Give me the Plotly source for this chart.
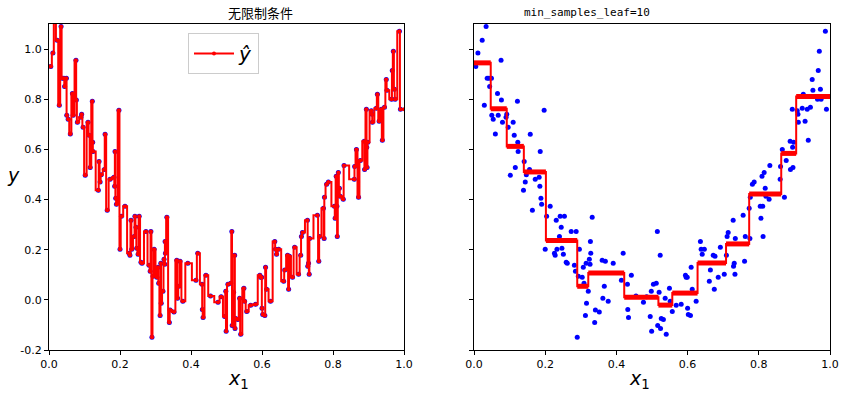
import plotly.graph_objects as go

# ---- training points ----
x_data = [0.005, 0.011, 0.016, 0.023, 0.029, 0.034, 0.037, 0.042, 0.044, 0.049,
          0.050, 0.054, 0.060, 0.066, 0.068, 0.076, 0.077, 0.080, 0.090, 0.092,
          0.096, 0.102, 0.110, 0.113, 0.116, 0.122, 0.123, 0.124, 0.139, 0.141,
          0.144, 0.147, 0.156, 0.158, 0.164, 0.172, 0.183, 0.185, 0.186, 0.188,
          0.190, 0.197, 0.200, 0.204, 0.214, 0.226, 0.228, 0.231, 0.233, 0.240,
          0.242, 0.245, 0.247, 0.251, 0.254, 0.259, 0.262, 0.273, 0.282, 0.285,
          0.287, 0.290, 0.293, 0.296, 0.304, 0.307, 0.309, 0.313, 0.315, 0.316,
          0.321, 0.324, 0.326, 0.327, 0.328, 0.332, 0.339, 0.341, 0.352, 0.360,
          0.362, 0.366, 0.369, 0.377, 0.391, 0.414, 0.419, 0.431, 0.432, 0.434,
          0.442, 0.455, 0.476, 0.485, 0.495, 0.498, 0.499, 0.504, 0.512, 0.515,
          0.516, 0.520, 0.523, 0.524, 0.526, 0.532, 0.537, 0.540, 0.549, 0.551,
          0.557, 0.568, 0.582, 0.594, 0.596, 0.599, 0.600, 0.602, 0.608, 0.610,
          0.613, 0.624, 0.636, 0.638, 0.641, 0.647, 0.661, 0.664, 0.672, 0.675,
          0.677, 0.686, 0.692, 0.703, 0.709, 0.711, 0.714, 0.728, 0.729, 0.731,
          0.733, 0.734, 0.756, 0.760, 0.762, 0.773, 0.775, 0.776, 0.782, 0.787,
          0.804, 0.806, 0.809, 0.811, 0.812, 0.815, 0.818, 0.820, 0.829, 0.831,
          0.860, 0.861, 0.866, 0.872, 0.877, 0.888, 0.889, 0.894, 0.895, 0.896,
          0.898, 0.908, 0.910, 0.911, 0.922, 0.925, 0.930, 0.936, 0.939, 0.945,
          0.950, 0.952, 0.965, 0.967, 0.970, 0.973, 0.975, 0.987, 0.990]
y_data = [0.931, 0.984, 1.130, 1.035, 0.776, 1.090, 0.884, 0.884, 0.851, 0.884,
          0.736, 0.720, 0.661, 0.823, 0.736, 0.955, 0.797, 0.708, 0.728, 0.740,
          0.688, 0.497, 0.708, 0.656, 0.528, 0.792, 0.628, 0.592, 0.437, 0.552,
          0.470, 0.499, 0.520, 0.660, 0.357, 0.481, 0.489, 0.453, 0.592, 0.405,
          0.381, 0.756, 0.202, 0.333, 0.373, 0.186, 0.178, 0.317, 0.202, 0.253,
          0.333, 0.289, 0.206, 0.182, 0.333, 0.150, 0.146, 0.273, 0.138, 0.114,
          0.273, -0.149, 0.094, 0.202, 0.090, 0.130, 0.066, -0.062, 0.146, -0.014,
          0.034, 0.162, 0.142, 0.233, 0.186, 0.329, -0.090, -0.040, -0.048, 0.158,
          0.006, 0.054, 0.154, -0.006, 0.146, 0.078, 0.186, 0.062, -0.038, -0.070,
          0.098, 0.015, -0.010, 0.012, -0.066, 0.034, -0.125, 0.062, 0.066, 0.273,
          -0.102, 0.030, 0.178, -0.114, -0.074, -0.078, 0.006, -0.137, 0.046, -0.006,
          -0.046, -0.022, -0.018, 0.098, 0.090, 0.090, -0.034, -0.058, -0.062, 0.130,
          0.042, -0.006, 0.233, 0.202, 0.182, 0.202, 0.074, 0.119, 0.178, 0.042,
          0.174, 0.090, 0.210, 0.102, 0.178, 0.253, 0.269, 0.317, 0.134, 0.146,
          0.102, 0.245, 0.337, 0.154, 0.253, 0.365, 0.245, 0.409, 0.461, 0.470,
          0.373, 0.325, 0.493, 0.373, 0.253, 0.508, 0.445, 0.413, 0.401, 0.536,
          0.481, 0.532, 0.600, 0.409, 0.556, 0.632, 0.520, 0.760, 0.609, 0.528,
          0.628, 0.754, 0.740, 0.708, 0.764, 0.820, 0.712, 0.760, 0.636, 0.768,
          0.879, 0.836, 0.800, 0.915, 0.991, 0.840, 0.800, 1.071, 0.760]

# ---- min_samples_leaf=10 tree: leaf edges and leaf values ----
leaf_edges = [0.0, 0.047, 0.092, 0.140, 0.202, 0.290, 0.321, 0.422, 0.518,
              0.557, 0.628, 0.708, 0.773, 0.863, 0.905, 1.0]
leaf_values = [0.945, 0.762, 0.612, 0.510, 0.237, 0.054, 0.107, 0.010,
               -0.021, 0.027, 0.147, 0.223, 0.422, 0.584, 0.811]

x_ticks = [0.0, 0.2, 0.4, 0.6, 0.8, 1.0]
x_tick_text = ["0.0", "0.2", "0.4", "0.6", "0.8", "1.0"]
y_ticks = [-0.2, 0.0, 0.2, 0.4, 0.6, 0.8, 1.0]
y_tick_text = ["-0.2", "0.0", "0.2", "0.4", "0.6", "0.8", "1.0"]

titles = ["无限制条件", "min_samples_leaf=10"]

# sort points for the unrestricted tree line
pairs = sorted(zip(x_data, y_data))
xs = [p[0] for p in pairs]
ys = [p[1] for p in pairs]

fig = go.Figure()

# left panel
fig.add_trace(go.Scatter(x=x_data, y=y_data, mode="markers",
                         marker=dict(color="blue", size=5), showlegend=False,
                         xaxis="x", yaxis="y"))
fig.add_trace(go.Scatter(x=[0.0] + xs + [1.0], y=[ys[0]] + ys + [ys[-1]],
                         mode="lines+markers", line=dict(color="red", width=2, shape="hvh"),
                         marker=dict(color="red", size=4),
                         name="<i>ŷ</i>", showlegend=True, xaxis="x", yaxis="y"))

# right panel
fig.add_trace(go.Scatter(x=x_data, y=y_data, mode="markers",
                         marker=dict(color="blue", size=5), showlegend=False,
                         xaxis="x2", yaxis="y2"))
fig.add_trace(go.Scatter(x=leaf_edges, y=leaf_values + [leaf_values[-1]],
                         mode="lines", line=dict(color="red", width=2, shape="hv"),
                         showlegend=False, xaxis="x2", yaxis="y2"))
hx, hy = [], []
for i, v in enumerate(leaf_values):
    hx += [leaf_edges[i], leaf_edges[i + 1], None]
    hy += [v, v, None]
fig.add_trace(go.Scatter(x=hx, y=hy, mode="lines",
                         line=dict(color="red", width=5),
                         showlegend=False, xaxis="x2", yaxis="y2"))

W, H = 846, 396
ML, MR, MT, MB = 49, 16, 24, 46
PW = W - ML - MR
tickfont = dict(family="DejaVu Sans, sans-serif", size=11, color="black")
axis_common = dict(showgrid=False, zeroline=False, showline=True, mirror=True,
                   linecolor="black", linewidth=1, ticks="outside", ticklen=4,
                   tickcolor="black", tickfont=tickfont, automargin=False)

fig.update_layout(
    width=W, height=H, margin=dict(l=ML, r=MR, t=MT, b=MB, autoexpand=False),
    plot_bgcolor="white", paper_bgcolor="white",
    xaxis=dict(domain=[0, 355 / PW], range=[0, 1], tickvals=x_ticks,
               ticktext=x_tick_text, anchor="y", **axis_common),
    yaxis=dict(domain=[0, 1], range=[-0.2, 1.1], tickvals=y_ticks,
               ticktext=y_tick_text, anchor="x", **axis_common),
    xaxis2=dict(domain=[(474 - ML) / PW, 1], range=[0, 1], tickvals=x_ticks,
                ticktext=x_tick_text, anchor="y2", **axis_common),
    yaxis2=dict(domain=[0, 1], range=[-0.2, 1.1], tickvals=y_ticks,
                showticklabels=False, anchor="x2", **axis_common),
    legend=dict(x=(188 - ML) / PW, y=1 - (33 - MT) / (H - MT - MB),
                xanchor="left", yanchor="top",
                bgcolor="white", bordercolor="#cccccc", borderwidth=1,
                font=dict(family="DejaVu Sans, sans-serif", size=20, color="black"),
                itemwidth=40),
    showlegend=True,
)

def px_to_paper(px, py):
    return (px - ML) / PW, (H - MB - py) / (H - MT - MB)

ax, ay = px_to_paper(226, 13)
fig.add_annotation(x=ax, y=ay, xref="paper", yref="paper",
                   text=titles[0], showarrow=False, yanchor="middle",
                   font=dict(family="Noto Sans CJK SC", size=13, color="black"))
ax, ay = px_to_paper(652, 13)
fig.add_annotation(x=ax, y=ay, xref="paper", yref="paper",
                   text=titles[1], showarrow=False, yanchor="middle",
                   font=dict(family="DejaVu Sans Mono, monospace", size=11, color="black"))
for cxp in (226, 652):
    ax, ay = px_to_paper(cxp, 379)
    fig.add_annotation(x=ax, y=ay, xref="paper", yref="paper",
                       text="<i>x</i><sub>1</sub>", showarrow=False, yanchor="middle",
                       font=dict(family="DejaVu Sans, sans-serif", size=19, color="black"))
ax, ay = px_to_paper(13, 175)
fig.add_annotation(x=ax, y=ay, xref="paper", yref="paper",
                   text="<i>y</i>", showarrow=False, yanchor="middle", xanchor="center",
                   font=dict(family="DejaVu Sans, sans-serif", size=19, color="black"))

fig.write_html("out.html", config={"displayModeBar": False},
               post_script="document.body.style.margin='0';document.body.style.padding='0';")
